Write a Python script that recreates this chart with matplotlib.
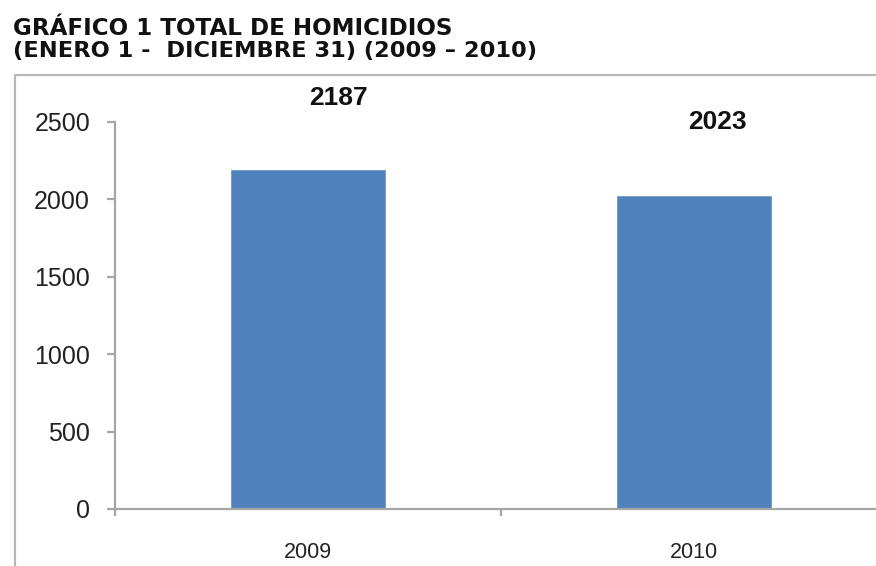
import matplotlib
matplotlib.use("Agg")
import matplotlib.pyplot as plt
from matplotlib.patches import Rectangle

plt.rcParams['font.family'] = ['Liberation Sans', 'DejaVu Sans']

# data
years = ["2009", "2010"]
homicides = [2187, 2023]
y_ticks = [0, 500, 1000, 1500, 2000, 2500]

title_line1 = "GRÁFICO 1 TOTAL DE HOMICIDIOS"
title_line2 = "(ENERO 1 -  DICIEMBRE 31) (2009 – 2010)"

W, H = 876, 566
fig = plt.figure(figsize=(W / 100, H / 100), dpi=100)

# outer chart frame (runs off the right and bottom edges)
frame = Rectangle((15 / W, -0.2), 1.2, 1.2 - 75 / H, transform=fig.transFigure,
                  fill=False, edgecolor='#b8b8b8', linewidth=1.6, zorder=0)
fig.patches.append(frame)

# heavy title, closer to the Arial Black look of the original
fig.text(13 / W, 1 - 35 / H, title_line1, fontsize=16.6, fontweight='bold',
         family='DejaVu Sans', va='baseline', ha='left', color='#111111')
fig.text(13 / W, 1 - 57 / H, title_line2, fontsize=16.2, fontweight='bold',
         family='DejaVu Sans', va='baseline', ha='left', color='#111111')

ax = fig.add_axes([115 / W, 1 - 509 / H, 772 / W, (509 - 122) / H])
x = list(range(len(years)))
ax.bar(x, homicides, width=0.4, color='#4F81BD', edgecolor='#6f9ad0', linewidth=0.6, zorder=2)

ax.set_xlim(-0.5, len(years) - 0.5)
ax.set_ylim(0, 2500)
ax.set_yticks(y_ticks)
ax.set_yticklabels([str(t) for t in y_ticks], fontsize=18, color='#222222')
ax.set_xticks(x)
ax.set_xticklabels(years, fontsize=15.5, color='#222222')
ax.set_xticks([-0.5 + i for i in range(len(years) + 1)], minor=True)

axis_gray = '#a6a6a6'
for side in ['top', 'right']:
    ax.spines[side].set_visible(False)
for side in ['left', 'bottom']:
    ax.spines[side].set_color(axis_gray)
    ax.spines[side].set_linewidth(1.6)

ax.tick_params(axis='y', direction='out', length=6, width=1.6, color=axis_gray, pad=12)
ax.tick_params(axis='x', which='major', length=0, pad=24)
ax.tick_params(axis='x', which='minor', direction='out', length=5, width=1.6, color=axis_gray)

# value labels, set above the bars like the original
label_offsets = [(30, 72), (23, 74)]
for xi, v, (dx, dy) in zip(x, homicides, label_offsets):
    ax.annotate(str(v), xy=(xi, v), xytext=(dx, dy), textcoords='offset pixels',
                ha='center', va='center', fontsize=19, fontweight='bold',
                color='#111111', annotation_clip=False)

fig.savefig("out.png", dpi=100)
